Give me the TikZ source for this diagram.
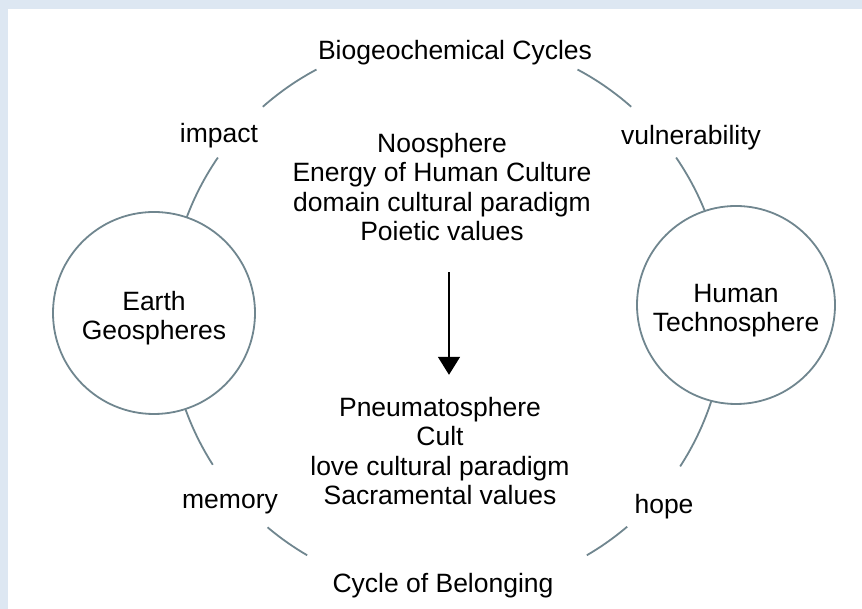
\documentclass[tikz,border=0pt]{standalone}
\usepackage{fontspec}
\setmainfont{Liberation Sans}
\usetikzlibrary{arrows.meta}
\definecolor{ringgray}{RGB}{112,134,143}
\definecolor{panelblue}{RGB}{221,231,242}
\begin{document}
\begin{tikzpicture}[x=1pt,y=1pt,
        txt/.style={font=\fontsize{26.5}{29.5}\selectfont, align=center, inner sep=0pt},
        sphere/.style={circle, draw=ringgray, line width=1.8pt, fill=white, inner sep=0pt},
        spheretxt/.style={txt, font=\fontsize{26.5}{29}\selectfont},
        ring/.style={ringgray, line width=1.8pt}]
        % background and panel
        \fill[panelblue] (0,0) rectangle (862,609);
        \fill[white] (8,0) rectangle (862,600);
        \useasboundingbox (0,0) rectangle (862,609);

        % the big cycle, drawn in pieces
        \coordinate (c) at (447,294);
        \draw[ring] (c) ++(48.5:278pt) arc[start angle=48.5, end angle=62, radius=278pt];
        \draw[ring] (c) ++(118:278pt) arc[start angle=118, end angle=131.5, radius=278pt];
        \draw[ring] (c) ++(145.5:278pt) arc[start angle=145.5, end angle=162, radius=278pt];
        \draw[ring] (c) ++(198:278pt) arc[start angle=198, end angle=212.6, radius=278pt];
        \draw[ring] (c) ++(229.8:278pt) arc[start angle=229.8, end angle=239.8, radius=278pt];
        \draw[ring] (c) ++(300.2:278pt) arc[start angle=300.2, end angle=310.4, radius=278pt];
        \draw[ring] (c) ++(327:278pt) arc[start angle=327, end angle=344, radius=278pt];
        \draw[ring] (c) ++(18:278pt) arc[start angle=18, end angle=34.5, radius=278pt];

        \node[sphere, minimum size=202pt,
            label={[spheretxt, yshift=-5pt]center:{Earth\\Geospheres}}] (earth) at (154,296) {};
        \node[sphere, minimum size=198pt,
            label={[spheretxt, yshift=-6pt]center:{Human\\Technosphere}}] (human) at (736,304) {};

        \node[txt] (bio) at (455,556) {Biogeochemical Cycles};
        \node[txt] (belong) at (443,23) {Cycle of Belonging};
        \node[txt] (impact) at (219,473) {impact};
        \node[txt] (vuln) at (691,471) {vulnerability};
        \node[txt] (memory) at (230,105) {memory};
        \node[txt] (hope) at (664,102) {hope};

        \node[txt] (noo) at (442,422) {Noosphere\\Energy of Human Culture\\domain cultural paradigm\\Poietic values};
        \node[txt] (pneu) at (440,158) {Pneumatosphere\\Cult\\love cultural paradigm\\Sacramental values};

        \draw[line width=1.6pt, -{Triangle[width=22pt,length=18pt]}, shorten <=31pt, shorten >=22pt]
            ([xshift=7pt]noo.south) -- ([xshift=9pt]pneu.north);
\end{tikzpicture}
\end{document}
